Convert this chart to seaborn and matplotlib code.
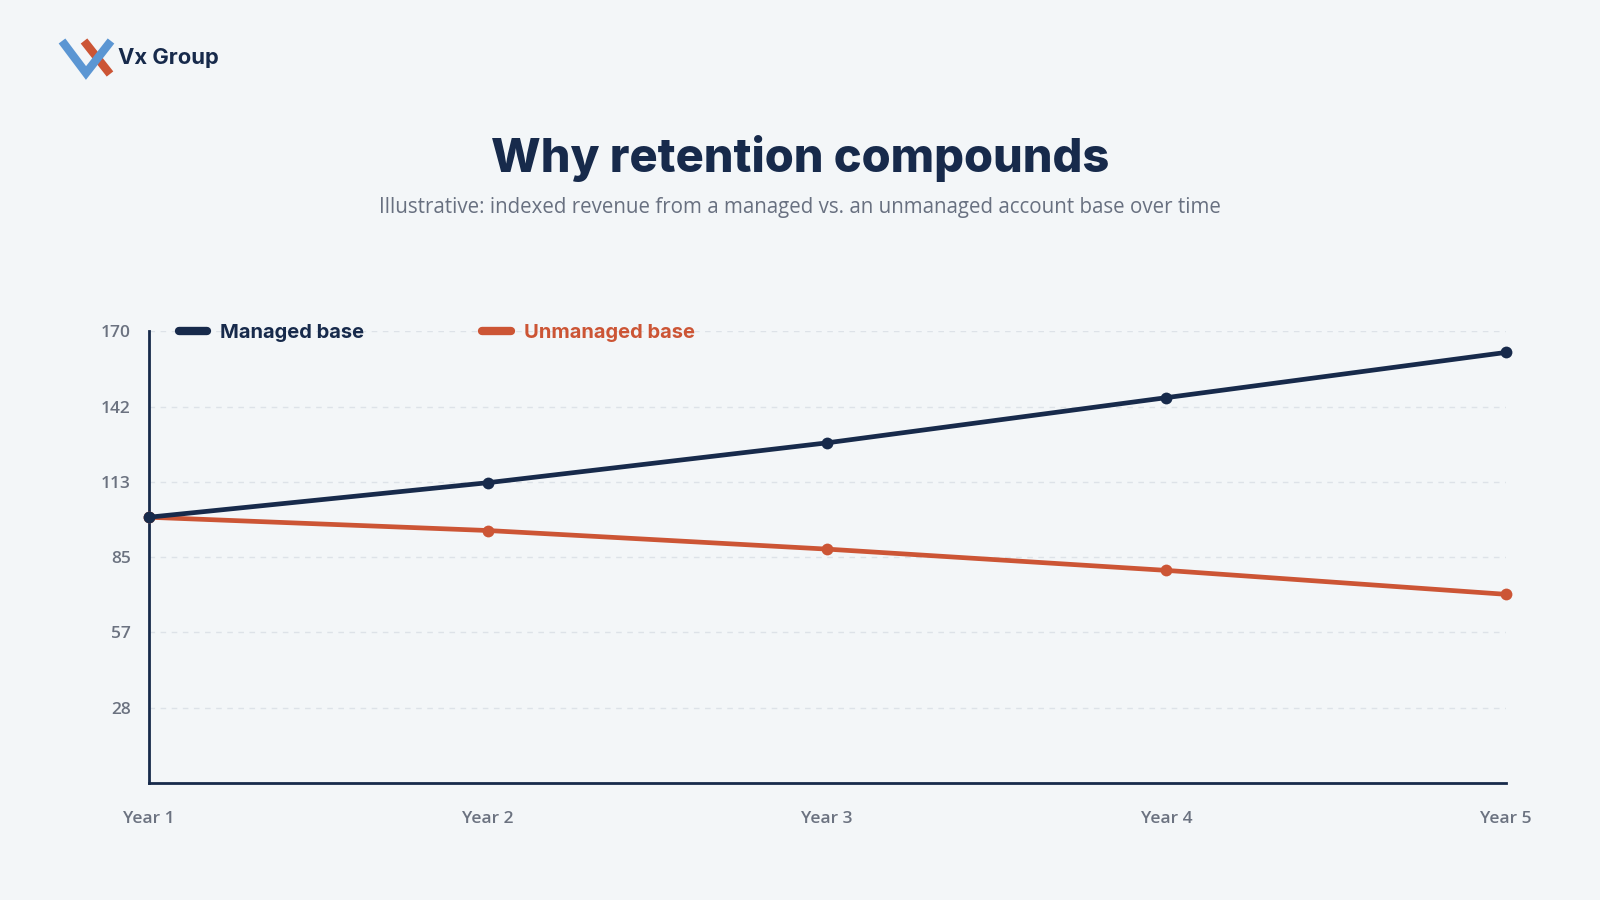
import numpy as np
import pandas as pd
import matplotlib.pyplot as plt
from matplotlib.lines import Line2D
import seaborn as sns

years = ['Year 1', 'Year 2', 'Year 3', 'Year 4', 'Year 5']
managed = [100, 113, 128, 145, 162]
unmanaged = [100, 95, 88, 80, 71]
series_names = ['Managed base', 'Unmanaged base']
y_ticks = [170 / 6 * k for k in range(1, 7)]

navy = '#172a4b'
orange = '#cc5535'
bg = '#f3f6f8'
grey = '#6b7280'

df = pd.DataFrame({
    'year': years * 2,
    'pos': list(range(len(years))) * 2,
    'value': managed + unmanaged,
    'series': [series_names[0]] * len(years) + [series_names[1]] * len(years),
})

sns.set_theme(style='white')
plt.rcParams['font.family'] = ['Open Sans', 'DejaVu Sans']

fig = plt.figure(figsize=(16, 9), dpi=100, facecolor=bg)
ax = fig.add_axes([0.093, 0.130, 0.848, 0.502])
ax.set_facecolor(bg)

sns.lineplot(data=df, x='pos', y='value', hue='series',
             palette={series_names[0]: navy, series_names[1]: orange},
             hue_order=[series_names[1], series_names[0]],
             marker='o', markersize=8.5, markeredgewidth=0, linewidth=3.4,
             legend=False, ax=ax, clip_on=False, zorder=3)

ax.set_xlim(0, len(years) - 1)
ax.set_ylim(0, 170)
ax.set_xticks(range(len(years)))
ax.set_xticklabels(years)
ax.set_yticks(y_ticks)
ax.set_yticklabels([str(int(round(v))) for v in y_ticks])
ax.set_xlabel('')
ax.set_ylabel('')
ax.tick_params(axis='both', length=0, labelsize=12.5, labelcolor=grey)
ax.tick_params(axis='x', pad=20)
ax.tick_params(axis='y', pad=13)
for lab in ax.get_xticklabels() + ax.get_yticklabels():
    lab.set_fontweight('semibold')

ax.grid(axis='y', color='#dde2e8', linestyle=(0, (4, 4)), linewidth=1)
ax.grid(axis='x', visible=False)
for s in ['top', 'right']:
    ax.spines[s].set_visible(False)
for s in ['left', 'bottom']:
    ax.spines[s].set_color(navy)
    ax.spines[s].set_linewidth(2)

handles = [Line2D([0], [0], color=navy, lw=6, solid_capstyle='round'),
           Line2D([0], [0], color=orange, lw=6, solid_capstyle='round')]
leg = ax.legend(handles, series_names, ncol=2, loc='center left',
                bbox_to_anchor=(0.009, 0.996), frameon=False,
                handlelength=1.4, handletextpad=0.65, columnspacing=5.85,
                prop={'family': 'Inter', 'weight': 'bold', 'size': 14.5})
for t, c in zip(leg.get_texts(), [navy, orange]):
    t.set_color(c)

fig.text(0.5, 0.824, 'Why retention compounds', ha='center', va='center',
         fontsize=33.8, fontweight='heavy', color=navy, family='Inter')
fig.text(0.5, 0.769,
         'Illustrative: indexed revenue from a managed vs. an unmanaged account base over time',
         ha='center', va='center', fontsize=14.8, fontweight='medium', color='#687080')

# logo
fig.add_artist(Line2D([84 / 1600, 110 / 1600], [1 - 41 / 900, 1 - 74 / 900],
                      color=orange, lw=6, transform=fig.transFigure,
                      solid_capstyle='butt'))
fig.add_artist(Line2D([62 / 1600, 86 / 1600, 111 / 1600],
                      [1 - 41 / 900, 1 - 73 / 900, 1 - 41 / 900],
                      color='#5b96d3', lw=6, transform=fig.transFigure,
                      solid_joinstyle='miter', solid_capstyle='butt'))
fig.text(118 / 1600, 1 - 58 / 900, 'Vx Group', ha='left', va='center',
         fontsize=15.8, fontweight='bold', color=navy, family='Inter')

fig.savefig('out.png', dpi=100, facecolor=bg)
